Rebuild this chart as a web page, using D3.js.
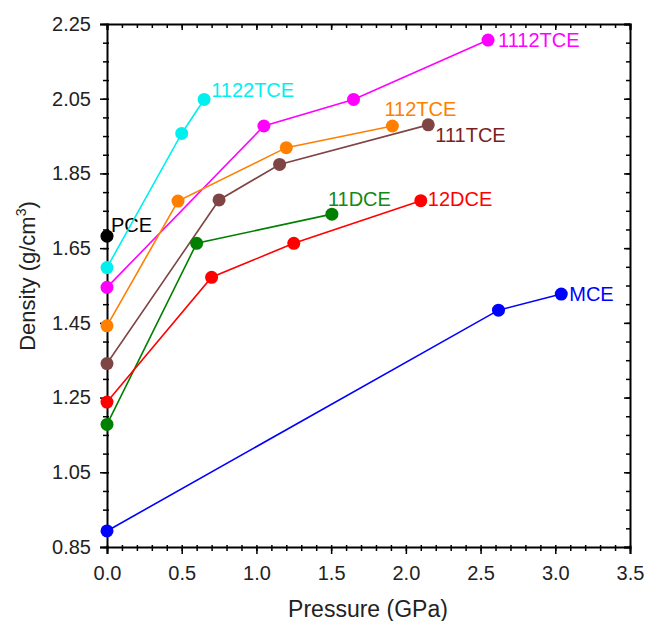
<!DOCTYPE html>
<html>
<head>
<meta charset="utf-8">
<script src="https://cdn.jsdelivr.net/npm/d3@7"></script>
<style>
  body { margin: 0; background: #fff; }
  text { font-family: "Liberation Sans", Arial, sans-serif; }
</style>
</head>
<body>
<div id="chart"></div>
<script>
// chart size and margins
var svgWidth = 648;
var svgHeight = 621;

var margin = { top: 24, right: 18, bottom: 74, left: 107 };
var width = 630 - margin.left;
var height = 547 - margin.top;

// data (pressure in GPa, density in g/cm3)
var names = ["PCE", "1122TCE", "1112TCE", "112TCE", "111TCE", "11DCE", "12DCE", "MCE"];
var colors = ["#000000", "#00f0f0", "#ff00ff", "#ff8000", "#7f4545", "#008000", "#ff0000", "#0000ff"];
var labelColors = ["#000000", "#00f0f0", "#ff00ff", "#ff8000", "#7a1f1f", "#138a13", "#ff0000", "#0000ff"];

var pressPCE = [0.0];
var densPCE = [1.682];
var press1122TCE = [0.0, 0.50, 0.65];
var dens1122TCE = [1.598, 1.957, 2.048];
var press1112TCE = [0.0, 1.05, 1.65, 2.55];
var dens1112TCE = [1.545, 1.977, 2.048, 2.207];
var press112TCE = [0.0, 0.475, 1.20, 1.91];
var dens112TCE = [1.442, 1.776, 1.919, 1.977];
var press111TCE = [0.0, 0.75, 1.155, 2.15];
var dens111TCE = [1.341, 1.779, 1.874, 1.980];
var press11DCE = [0.0, 0.60, 1.505];
var dens11DCE = [1.178, 1.663, 1.741];
var press12DCE = [0.0, 0.70, 1.25, 2.10];
var dens12DCE = [1.238, 1.572, 1.663, 1.777];
var pressMCE = [0.0, 2.62, 3.04];
var densMCE = [0.893, 1.484, 1.527];

var pressures = [pressPCE, press1122TCE, press1112TCE, press112TCE, press111TCE, press11DCE, press12DCE, pressMCE];
var densities = [densPCE, dens1122TCE, dens1112TCE, dens112TCE, dens111TCE, dens11DCE, dens12DCE, densMCE];

var xTicks = [0.0, 0.5, 1.0, 1.5, 2.0, 2.5, 3.0, 3.5];
var yTicks = [0.85, 1.05, 1.25, 1.45, 1.65, 1.85, 2.05, 2.25];

// label offsets in px from the last point of each series
var labelDx = [4, 7, 10, -8, 7, -4, 7, 8];
var labelDy = [-4, -2, 7, -10, 17, -8, 5, 7];

var series = names.map(function(n, i) {
  return {
    name: n,
    color: colors[i],
    labelColor: labelColors[i],
    points: pressures[i].map(function(p, j) { return { x: p, y: densities[i][j] }; })
  };
});

var svg = d3.select("#chart")
  .append("svg")
  .attr("width", svgWidth)
  .attr("height", svgHeight);

var chartGroup = svg.append("g")
  .attr("transform", `translate(${margin.left}, ${margin.top})`);

var xScale = d3.scaleLinear().domain([0, 3.5]).range([0, width]);
var yScale = d3.scaleLinear().domain([0.85, 2.25]).range([height, 0]);

var xMinor = d3.range(0, 3.5001, 0.1);
var yMinor = d3.range(0.85, 2.2501, 0.05);

// minor ticks (no labels), left/bottom ones cross the axis line a bit
chartGroup.append("g")
  .attr("class", "minor")
  .attr("transform", `translate(0, ${height - 2})`)
  .call(d3.axisBottom(xScale).tickValues(xMinor).tickSize(6).tickFormat(""));
chartGroup.append("g")
  .attr("class", "minor")
  .attr("transform", "translate(2, 0)")
  .call(d3.axisLeft(yScale).tickValues(yMinor).tickSize(6).tickFormat(""));
chartGroup.append("g")
  .attr("class", "minor")
  .call(d3.axisBottom(xScale).tickValues(xMinor).tickSize(4).tickFormat(""));
chartGroup.append("g")
  .attr("class", "minor")
  .attr("transform", `translate(${width}, 0)`)
  .call(d3.axisLeft(yScale).tickValues(yMinor).tickSize(4).tickFormat(""));
chartGroup.selectAll(".minor path").remove();

// main axes
var bottomAxis = d3.axisBottom(xScale).tickValues(xTicks).tickSize(7).tickPadding(12)
  .tickFormat(d3.format(".1f"));
var leftAxis = d3.axisLeft(yScale).tickValues(yTicks).tickSize(7).tickPadding(9)
  .tickFormat(d3.format(".2f"));

chartGroup.append("g")
  .attr("class", "axis")
  .attr("transform", `translate(0, ${height})`)
  .call(bottomAxis);
chartGroup.append("g")
  .attr("class", "axis")
  .call(leftAxis);

// top and right axes with inward ticks
chartGroup.append("g")
  .attr("class", "axis")
  .call(d3.axisBottom(xScale).tickValues(xTicks).tickSize(6).tickFormat(""));
chartGroup.append("g")
  .attr("class", "axis")
  .attr("transform", `translate(${width}, 0)`)
  .call(d3.axisLeft(yScale).tickValues(yTicks).tickSize(6).tickFormat(""));

chartGroup.selectAll(".axis path")
  .attr("stroke", "#000").attr("stroke-width", 2);
chartGroup.selectAll(".axis line, .minor line")
  .attr("stroke", "#000").attr("stroke-width", 1.5);
chartGroup.selectAll(".axis text")
  .attr("font-size", "20px").attr("fill", "#222");

// lines and markers
var line = d3.line()
  .x(function(d) { return xScale(d.x); })
  .y(function(d) { return yScale(d.y); });

var seriesGroup = chartGroup.selectAll(".series")
  .data(series)
  .enter()
  .append("g")
  .attr("class", "series");

seriesGroup.append("path")
  .attr("d", function(d) { return line(d.points); })
  .attr("fill", "none")
  .attr("stroke", function(d) { return d.color; })
  .attr("stroke-width", 1.6);

seriesGroup.selectAll("circle")
  .data(function(d) { return d.points.map(function(p) { return { p: p, c: d.color }; }); })
  .enter()
  .append("circle")
  .attr("cx", function(d) { return xScale(d.p.x); })
  .attr("cy", function(d) { return yScale(d.p.y); })
  .attr("r", 6.5)
  .attr("fill", function(d) { return d.c; });

// series labels next to the last point
seriesGroup.append("text")
  .attr("x", function(d, i) { return xScale(d.points[d.points.length - 1].x) + labelDx[i]; })
  .attr("y", function(d, i) { return yScale(d.points[d.points.length - 1].y) + labelDy[i]; })
  .attr("font-size", "20px")
  .attr("fill", function(d) { return d.labelColor; })
  .text(function(d) { return d.name; });

// axis titles
svg.append("text")
  .attr("x", 368)
  .attr("y", 617)
  .attr("text-anchor", "middle")
  .attr("font-size", "23px")
  .attr("fill", "#222")
  .text("Pressure (GPa)");

var yTitle = svg.append("text")
  .attr("transform", "translate(35, 276) rotate(-90)")
  .attr("text-anchor", "middle")
  .attr("font-size", "22px")
  .attr("fill", "#222");
yTitle.append("tspan").text("Density (g/cm");
yTitle.append("tspan").attr("font-size", "14px").attr("dy", -9).text("3");
yTitle.append("tspan").attr("dy", 9).text(")");
</script>
</body>
</html>
